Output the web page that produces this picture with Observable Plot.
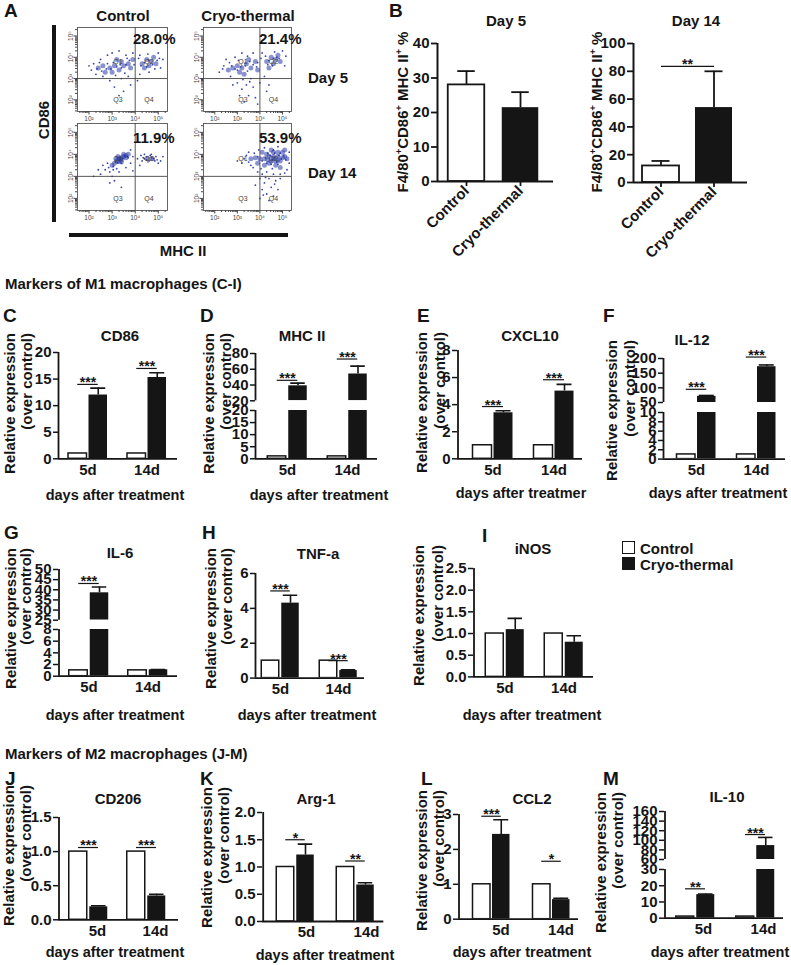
<!DOCTYPE html>
<html><head><meta charset="utf-8">
<script src="https://cdn.jsdelivr.net/npm/d3@7"></script>
<script src="https://cdn.jsdelivr.net/npm/@observablehq/plot@0.6"></script>
<style>
body{margin:0;background:#fff;}
#fig{position:relative;width:791px;height:965px;overflow:hidden;background:#fff;font-family:"Liberation Sans",Arial,Helvetica,sans-serif;font-weight:bold;color:#151515;}
.t{position:absolute;white-space:nowrap;line-height:1;}
.t sup{font-size:9px;vertical-align:6px;line-height:0;}
</style></head>
<body><div id="fig"></div>
<script>
// ---------------- DATA ----------------
const days = ["5d", "14d"];
const treatments = ["Control", "Cryo-thermal"];

// Panel B (% F4/80+CD86+MHCII+)
const bDay5Mean = [28.0, 21.4];
const bDay5Upper = [32.0, 25.9];
const bDay14Mean = [11.9, 53.9];
const bDay14Upper = [15.5, 80.0];
const bDay5Ticks = [0, 10, 20, 30, 40];
const bDay14Ticks = [0, 20, 40, 60, 80, 100];
const bDay14Sig = [{from: "Control", to: "Cryo-thermal", y: 83.5, t: "**"}];

// Panels C–M: control normalised to 1
const controlMean = [1, 1];
const cd86Cryo = [12.0, 15.3], cd86Err = [13.3, 16.2], cd86Sig = ["***", "***"], cd86SigAt = [14.0, 17.0];
const cd86Ticks = [0, 5, 10, 15, 20];
const mhcCryo = [39, 54], mhcErr = [42.4, 64], mhcSig = ["***", "***"], mhcSigAt = [46, 73];
const mhcTicksLow = [0, 5, 10, 15, 20], mhcTicksHigh = [20, 40, 60, 80];
const cxcl10Cryo = [3.4, 5.0], cxcl10Err = [3.55, 5.5], cxcl10Sig = ["***", "***"], cxcl10SigAt = [3.86, 5.84];
const cxcl10Ticks = [0, 2, 4, 6, 8];
const il12Cryo = [71, 172], il12Err = [74, 178], il12Sig = ["***", "***"], il12SigAt = [95, 205];
const il12TicksLow = [0, 2, 4, 6, 8, 10], il12TicksHigh = [50, 100, 150, 200];
const il6Cryo = [38.5, 1.1], il6Err = [41.4, 1.15], il6Sig = ["***", ""], il6SigAt = [43.1, 0];
const il6TicksLow = [0, 2, 4, 6, 8], il6TicksHigh = [25, 30, 35, 40, 45, 50];
const tnfCryo = [4.3, 0.43], tnfErr = [4.75, 0.47], tnfSig = ["***", "***"], tnfSigAt = [5.0, 1.0];
const tnfTicks = [0, 2, 4, 6];
const inosCryo = [1.09, 0.80], inosErr = [1.35, 0.95], inosSig = ["", ""], inosSigAt = [0, 0];
const inosTicks = [0, 0.5, 1.0, 1.5, 2.0, 2.5];
const cd206Cryo = [0.19, 0.35], cd206Err = [0.205, 0.375], cd206Sig = ["***", "***"], cd206SigAt = [1.06, 1.06];
const cd206Ticks = [0, 0.5, 1.0, 1.5];
const arg1Cryo = [1.22, 0.67], arg1Err = [1.42, 0.71], arg1Sig = ["*", "**"], arg1SigAt = [1.5, 1.11];
const arg1Ticks = [0, 0.5, 1.0, 1.5, 2.0];
const ccl2Cryo = [2.43, 0.56], ccl2Err = [2.85, 0.60], ccl2Sig = ["***", "*"], ccl2SigAt = [2.95, 1.66];
const ccl2Ticks = [0, 1, 2, 3];
const il10Cryo = [14.5, 89], il10Err = [14.9, 106], il10Sig = ["**", "***"], il10SigAt = [18.1, 112];
const il10TicksLow = [0, 10, 20, 30], il10TicksHigh = [60, 80, 100, 120, 140, 160];

// Panel A flow cytometry: [log10 MHC II, log10 CD86]
const flowDecades = [2, 3, 4, 5];
const flowPercent = ["28.0%", "21.4%", "11.9%", "53.9%"];
const quadLabels = [{q: "Q1", x: 3.25, y: 3.8}, {q: "Q2", x: 4.6, y: 3.8}, {q: "Q3", x: 3.25, y: 2.0}, {q: "Q4", x: 4.6, y: 2.0}];
const ctrlD5Dense = [[2.9,3.5],[3.1,3.6],[3.3,3.4],[3.0,3.3],[3.5,3.6],[3.7,3.7],[2.6,3.6],[2.4,3.5],[3.4,3.8],[3.8,3.5],[4.3,3.7],[4.5,3.9],[4.7,3.8],[4.6,3.6],[4.9,3.7],[4.4,3.5],[3.2,3.9],[2.7,3.3],[3.9,3.9],[4.8,4.0]];
const ctrlD5Sparse = [[2.1,3.4],[2.2,3.7],[2.3,3.2],[2.5,3.9],[2.8,4.1],[3.0,4.2],[3.3,4.3],[3.6,4.1],[3.9,4.2],[4.2,4.1],[5.0,4.2],[5.2,3.9],[5.1,3.5],[4.2,3.2],[3.7,3.1],[3.4,3.0],[2.9,2.9],[3.1,2.6],[3.5,2.4],[3.8,2.7],[4.1,2.9],[3.3,2.2],[2.6,3.1],[4.6,3.3],[2.0,3.6],[2.45,3.75],[2.75,3.45],[3.15,3.15],[3.55,3.25],[3.95,3.65],[4.15,3.95],[4.55,4.15],[4.85,3.45],[5.05,3.95],[2.35,3.45],[3.65,3.95],
  [2.95,3.45],[3.2,3.55],[3.4,3.5],[3.6,3.65],[2.8,3.7],[3.05,3.75],[4.4,3.75],[4.6,3.85],[4.75,3.65],[4.5,3.55],[3.75,3.85],[2.55,3.35],[3.35,3.65],[4.95,3.85],[4.25,3.6]];
const cryoD5Dense = [[2.8,3.5],[3.0,3.6],[3.2,3.5],[3.4,3.7],[3.1,3.3],[3.6,3.5],[3.8,3.8],[2.6,3.4],[3.5,3.9],[4.3,3.8],[4.5,4.0],[4.7,3.9],[4.8,4.1],[4.6,3.7],[4.9,3.8],[4.4,3.5],[3.3,3.2],[3.9,3.4]];
const cryoD5Sparse = [[2.2,3.3],[2.4,3.6],[2.5,3.9],[2.9,4.0],[3.2,4.2],[3.7,4.2],[4.1,4.2],[5.0,4.3],[5.1,3.6],[4.2,3.1],[3.6,3.0],[3.0,2.8],[3.2,2.5],[3.4,2.7],[3.7,2.6],[3.5,2.2],[3.3,1.9],[3.8,2.1],[4.0,2.8],[2.8,2.7],[3.1,2.2],[3.9,1.8],[4.4,2.7],[2.7,3.1],[2.35,3.45],[2.65,3.75],[3.05,3.85],[3.45,4.05],[3.85,3.55],[4.05,3.95],[4.25,4.05],[4.65,4.25],[5.15,4.05],[3.55,2.85],[3.25,2.95],[4.3,2.4],
  [2.9,3.45],[3.15,3.55],[3.35,3.6],[3.55,3.8],[2.75,3.6],[3.7,3.65],[4.4,3.85],[4.6,3.95],[4.75,4.0],[4.55,3.6],[4.85,3.95],[3.45,3.35],[3.0,3.4],[4.35,3.65],[3.9,3.75]];
const ctrlD14Dense = [[3.1,3.6],[3.2,3.7],[3.3,3.8],[3.4,3.85],[3.5,3.9],[3.6,3.95],[3.3,3.7],[3.4,3.75],[3.2,3.8],[3.5,4.0],[3.7,4.0],[3.0,3.5],[3.4,3.65],[3.6,3.85],[3.25,3.9],[4.55,3.8],[4.75,3.8]];
const ctrlD14Sparse = [[2.5,3.1],[2.7,3.3],[2.8,3.6],[2.9,3.2],[3.0,3.0],[3.1,2.8],[3.3,3.2],[2.6,3.5],[3.8,4.2],[3.9,3.9],[4.1,3.8],[4.3,3.7],[4.5,3.9],[4.6,3.7],[4.8,3.8],[4.9,3.9],[5.1,3.7],[4.4,4.0],[4.7,4.0],[5.0,3.6],[4.2,3.5],[3.6,3.4],[3.4,2.5],[2.9,2.7],[3.8,3.6],[2.2,3.0],[2.85,3.4],[3.05,3.3],[4.35,3.85],[4.65,3.95],[4.95,3.75],[5.2,3.9],[4.25,3.95],[3.9,3.25],[2.4,3.3],[3.2,3.35],
  [3.15,3.65],[3.3,3.75],[3.45,3.8],[3.55,3.95],[3.35,3.85],[3.25,3.6],[3.65,3.9],[3.05,3.45],[3.4,3.6],[3.7,3.85],[4.5,3.75],[4.7,3.85],[4.85,3.7],[4.4,3.8]];
const cryoD14Dense = [[4.2,3.8],[4.4,3.9],[4.6,3.9],[4.8,3.9],[5.0,3.85],[4.5,3.7],[4.7,3.7],[4.9,3.7],[5.1,3.9],[4.3,4.0],[4.6,4.1],[4.8,4.1],[5.0,4.1],[4.4,3.6],[4.7,3.5],[4.0,3.8],[3.8,3.85],[3.6,3.8],[5.2,3.8],[4.2,3.5],[4.9,3.4],[4.5,4.2],[5.1,4.2],[3.9,3.6],[4.1,4.1],[4.6,3.8],[4.8,3.75],[4.35,3.75]];
const cryoD14Sparse = [[3.3,3.8],[3.2,3.6],[3.5,4.1],[3.7,3.4],[3.9,3.2],[4.1,3.1],[4.3,3.2],[4.6,3.1],[4.9,3.1],[5.2,3.3],[5.3,4.1],[5.3,3.6],[4.0,2.9],[4.2,2.7],[4.4,2.9],[4.7,2.8],[4.1,2.4],[4.5,2.5],[4.3,2.2],[4.6,2.1],[4.0,2.0],[4.8,2.4],[3.8,2.6],[4.4,1.9],[4.2,4.3],[4.8,4.35],[3.6,3.5],[3.0,3.7],[3.4,3.95],[3.5,3.65],[4.05,3.35],[4.55,3.35],[4.25,2.95],[4.65,2.65],[4.15,2.15],[4.9,2.9],[5.1,3.15],[3.95,4.2],[3.75,4.05],
  [4.25,3.85],[4.45,3.95],[4.65,3.85],[4.85,3.95],[5.05,3.95],[4.55,3.75],[4.75,3.65],[4.95,3.8],[4.35,4.05],[4.65,4.05],[4.9,4.05],[4.5,3.55],[4.8,3.55],[4.1,3.7],[3.9,3.9],[5.15,3.75],[4.3,3.6],[4.6,4.2]];

// ---------------- HELPERS ----------------
const INK = "#151515";
const BLUE = "#2a3aa8";
const FONT = '"Liberation Sans", Arial, Helvetica, sans-serif';
const fig = document.getElementById("fig");
const baseStyle = {fontFamily: FONT, fontWeight: "bold", color: INK, overflow: "visible", background: "none"};
const plain = d => String(d);

function label(text, x, y, {size = 15, anchor = "middle", rotate = false, html = false, weight = "bold"} = {}) {
  const el = document.createElement("div");
  el.className = "t";
  el.style.fontSize = size + "px";
  el.style.fontWeight = weight;
  if (html) el.innerHTML = text; else el.textContent = text;
  el.style.left = x + "px";
  el.style.top = y + "px";
  el.style.transformOrigin = "0 0";
  if (!rotate) {
    el.style.transform = anchor === "start" ? "translate(0,-50%)" : anchor === "end" ? "translate(-100%,-50%)" : "translate(-50%,-50%)";
  } else {
    el.style.transform = anchor === "top" ? "rotate(-90deg) translate(-100%,-50%)" : "rotate(-90deg) translate(-50%,-50%)";
  }
  fig.appendChild(el);
}
function box(x, y, w, h, fill, stroke) {
  const el = document.createElement("div");
  el.style.cssText = `position:absolute;left:${x}px;top:${y}px;width:${w}px;height:${h}px;background:${fill};${stroke ? "border:1.5px solid " + stroke + ";box-sizing:border-box;" : ""}`;
  fig.appendChild(el);
}
function place(node, left, top) {
  node.style.position = "absolute";
  node.style.left = left + "px";
  node.style.top = top + "px";
  fig.appendChild(node);
}

// one y-segment of a grouped bar panel (broken axes use two segments)
function barSegment(g, seg, series, sigRows, isLower) {
  const mL = 50, mR = 6, mT = 26, mB = isLower ? 28 : 2;
  const frameH = seg.loPx - seg.hiPx;
  const svgLeft = g.ax - mL, svgTop = seg.hiPx - mT;
  const s = g.c[1] - g.c[0], half = s / 2, gap = 2, bw = g.bw, off = gap / 2 + bw / 2, cap = 15;
  const rows = days.map((d, i) => ({day: d, ctrl: series.ctrl[i], cryo: series.cryo[i], err: series.err[i]}));
  const ctrlRows = rows.filter(r => r.ctrl > seg.lo);
  const cryoRows = rows.filter(r => r.cryo > seg.lo);
  const errRows = rows.filter(r => r.err > seg.lo && r.cryo < seg.hi);
  const marks = [
    Plot.barY(ctrlRows, {x: "day", y1: () => seg.lo, y2: "ctrl", fill: "white", stroke: INK, strokeWidth: 1.5,
      insetLeft: half - gap / 2 - bw, insetRight: half + gap / 2, clip: true}),
    Plot.ruleX(errRows, {x: "day", y1: "cryo", y2: "err", dx: off, stroke: INK, strokeWidth: 1.6, clip: true}),
    Plot.tickY(errRows, {x: "day", y: "err", insetLeft: half + off - cap / 2, insetRight: half - off - cap / 2, stroke: INK, strokeWidth: 1.6, clip: true}),
    Plot.barY(cryoRows, {x: "day", y1: () => seg.lo, y2: "cryo", fill: INK,
      insetLeft: half + gap / 2, insetRight: half - gap / 2 - bw, clip: true}),
    Plot.tickY(sigRows, {x: "day", y: "y", insetLeft: half - off, insetRight: half - off, stroke: INK, strokeWidth: 1.2}),
    Plot.text(sigRows, {x: "day", y: "y", text: "t", dy: -1.5, fontSize: 14, fill: INK}),
    Plot.ruleX([days[0]], {x: d => d, dx: g.ax - g.c[0], stroke: INK, strokeWidth: 1.8}),
    Plot.axisY({ticks: seg.ticks, tickFormat: g.fmt || plain, tickSize: 5, tickPadding: 2, fontSize: 15, strokeWidth: 1.5, label: null})
  ];
  if (isLower) {
    marks.push(Plot.ruleY([seg.lo], {stroke: INK, strokeWidth: 1.8}));
    marks.push(Plot.text(days, {x: d => d, y: () => seg.lo, dy: 11, dx: g.xdx || 0, fontSize: 15, text: d => d, fill: INK}));
  }
  const svg = Plot.plot({
    width: g.ar - g.ax + mL + mR, height: frameH + mT + mB,
    marginLeft: mL, marginRight: mR, marginTop: mT, marginBottom: mB,
    x: {type: "band", domain: days, range: [g.c[0] - half - svgLeft, g.c[1] + half - svgLeft], padding: 0, axis: null},
    y: {domain: [seg.lo, seg.hi], axis: null},
    style: baseStyle,
    marks
  });
  place(svg, svgLeft, svgTop);
}

function barPanel(g, series) {
  const sig = days.map((d, i) => ({day: d, y: series.sigAt[i], t: series.sig[i]})).filter(r => r.t);
  if (g.segs.length === 1) {
    barSegment(g, g.segs[0], series, sig, true);
  } else {
    const [low, high] = g.segs;
    barSegment(g, low, series, sig.filter(r => r.y <= low.hi), true);
    barSegment(g, high, series, sig.filter(r => r.y > low.hi), false);
  }
}

function bPanel(g, means, uppers, ticks, sigList) {
  const mL = 50, mR = 8, mT = 12, mB = 100;
  const frameH = g.y0 - g.yTop;
  const svgLeft = g.ax - mL, svgTop = g.yTop - mT;
  const s = g.c[1] - g.c[0], half = s / 2, bw = g.bw, cap = 18;
  const rows = treatments.map((t, i) => ({t, v: means[i], e: uppers[i]}));
  const svg = Plot.plot({
    width: g.ar - g.ax + mL + mR, height: frameH + mT + mB,
    marginLeft: mL, marginRight: mR, marginTop: mT, marginBottom: mB,
    x: {type: "band", domain: treatments, range: [g.c[0] - half - svgLeft, g.c[1] + half - svgLeft], padding: 0, axis: null},
    y: {domain: [0, ticks[ticks.length - 1]], axis: null},
    style: baseStyle,
    marks: [
      Plot.ruleX(rows, {x: "t", y1: "v", y2: "e", stroke: INK, strokeWidth: 1.8}),
      Plot.tickY(rows, {x: "t", y: "e", insetLeft: half - cap / 2, insetRight: half - cap / 2, stroke: INK, strokeWidth: 1.8}),
      Plot.barY(rows.filter(r => r.t === "Control"), {x: "t", y1: () => 0, y2: "v", fill: "white", stroke: INK, strokeWidth: 1.8, insetLeft: half - bw / 2, insetRight: half - bw / 2}),
      Plot.barY(rows.filter(r => r.t !== "Control"), {x: "t", y1: () => 0, y2: "v", fill: INK, insetLeft: half - bw / 2, insetRight: half - bw / 2}),
      Plot.link(sigList, {x1: "from", x2: "to", y1: "y", y2: "y", stroke: INK, strokeWidth: 1.3}),
      Plot.text(sigList, {x: "from", y: "y", text: "t", dx: half, dy: -1.5, fontSize: 14, fill: INK}),
      Plot.ruleX([treatments[0]], {x: d => d, dx: g.ax - g.c[0], stroke: INK, strokeWidth: 2}),
      Plot.ruleY([0], {stroke: INK, strokeWidth: 2}),
      Plot.axisY({ticks, tickFormat: plain, tickSize: 6, tickPadding: 2, fontSize: 15, strokeWidth: 1.8, label: null}),
      Plot.axisX({tickSize: 5, tickRotate: -45, textAnchor: "end", tickPadding: 2, fontSize: 15, strokeWidth: 1.8, label: null})
    ]
  });
  place(svg, svgLeft, svgTop);
}

const SUP = {2: "10²", 3: "10³", 4: "10⁴", 5: "10⁵"};
const flowMinor = [];
for (let k = 1; k <= 5; k++) for (let m = 2; m <= 9; m++) flowMinor.push(k + Math.log10(m));

function flowPlot(dense, sparse, left, top, W, H) {
  const mL = 14, mR = 1, mT = 1, mB = 13;
  const svg = Plot.plot({
    width: W + mL + mR, height: H + mT + mB,
    marginLeft: mL, marginRight: mR, marginTop: mT, marginBottom: mB,
    x: {domain: [1.5, 5.4], axis: null},
    y: {domain: [1.45, 5.4], axis: null},
    style: baseStyle,
    marks: [
      Plot.dot(dense, {x: d => d[0], y: d => d[1], r: 2.5, fill: BLUE, fillOpacity: 0.55, clip: true}),
      Plot.dot(sparse, {x: d => d[0], y: d => d[1], r: 0.9, fill: BLUE, fillOpacity: 0.95, clip: true}),
      Plot.frame({stroke: "#555", strokeWidth: 0.9}),
      Plot.ruleX([4], {stroke: "#444", strokeWidth: 0.9}),
      Plot.ruleY([3], {stroke: "#444", strokeWidth: 0.9}),
      Plot.text(quadLabels, {x: "x", y: "y", text: "q", fontSize: 7, fontWeight: "normal", fill: "#444"}),
      Plot.axisX({ticks: flowMinor.filter(v => v >= 1.5 && v <= 5.4), tickSize: 2, tickFormat: () => "", stroke: "#444", label: null}),
      Plot.axisX({ticks: flowDecades, tickSize: 3.5, tickPadding: 1, fontSize: 6.5, fontWeight: "normal", fill: "#444", stroke: "#444", tickFormat: d => SUP[d], label: null}),
      Plot.axisY({ticks: flowMinor.filter(v => v >= 1.45 && v <= 5.4), tickSize: 2, tickFormat: () => "", stroke: "#444", label: null}),
      Plot.axisY({ticks: flowDecades, tickSize: 3.5, tickPadding: 1, tickRotate: -90, fontSize: 6.5, fontWeight: "normal", fill: "#444", stroke: "#444", tickFormat: d => SUP[d], label: null})
    ]
  });
  place(svg, left - mL, top - mT);
}

// ---------------- PANEL A ----------------
label("A", 4, 10, {size: 19, anchor: "start"});
label("Control", 123, 15);
label("Cryo-thermal", 248, 15);
flowPlot(ctrlD5Dense, ctrlD5Sparse, 77, 27, 90, 84);
flowPlot(cryoD5Dense, cryoD5Sparse, 203, 27, 88, 84);
flowPlot(ctrlD14Dense, ctrlD14Sparse, 77, 123, 90, 87);
flowPlot(cryoD14Dense, cryoD14Sparse, 203, 123, 88, 87);
label(flowPercent[0], 133, 38, {anchor: "start"});
label(flowPercent[1], 259, 38, {anchor: "start"});
label(flowPercent[2], 133, 137, {anchor: "start"});
label(flowPercent[3], 259, 137, {anchor: "start"});
label("Day 5", 308, 77, {anchor: "start"});
label("Day 14", 308, 172, {anchor: "start"});
box(52, 25, 4, 197, INK);
box(69, 233, 219, 4, INK);
label("CD86", 43, 120, {rotate: true});
label("MHC II", 183, 250);

// ---------------- PANEL B ----------------
label("B", 389, 10, {size: 19, anchor: "start"});
label("Day 5", 506, 20);
label("Day 14", 696, 20);
const bYLabel = "F4/80<sup>+</sup>CD86<sup>+</sup> MHC II<sup>+</sup> %";
label(bYLabel, 402, 112, {rotate: true, html: true});
label(bYLabel, 596, 112, {rotate: true, html: true});
bPanel({ax: 437, ar: 553, c: [466, 520.5], bw: 37, yTop: 43, y0: 181}, bDay5Mean, bDay5Upper, bDay5Ticks, []);
bPanel({ax: 633, ar: 747, c: [660.5, 713.5], bw: 37, yTop: 43, y0: 182}, bDay14Mean, bDay14Upper, bDay14Ticks, bDay14Sig);

// ---------------- SECTION HEADERS ----------------
label("Markers of M1 macrophages (C-I)", 5, 283, {anchor: "start"});
label("Markers of M2 macrophages (J-M)", 5, 753, {anchor: "start"});

// ---------------- PANELS C–M ----------------
const f1 = d3.format(".1f");
function titles(letter, lx, ly, title, tx, ty, yl1, yl2, ylTop, xt, xtx, xty) {
  label(letter, lx, ly, {size: 19, anchor: "start"});
  label(title, tx, ty);
  label("Relative expression", yl1, ylTop, {rotate: true, anchor: "top"});
  label("(over control)", yl2, ylTop, {rotate: true, anchor: "top"});
  label(xt, xtx, xty, {size: 14.5});
}
const XT = "days after treatment";

titles("C", 3, 315, "CD86", 120, 335, 9, 26, 333, XT, 115, 495);
barPanel({ax: 58, ar: 177, c: [87.5, 146.5], bw: 18.5, segs: [{lo: 0, hi: 20, loPx: 458, hiPx: 351.7, ticks: cd86Ticks}]},
  {ctrl: controlMean, cryo: cd86Cryo, err: cd86Err, sig: cd86Sig, sigAt: cd86SigAt});

titles("D", 200, 315, "MHC II", 302, 335, 208, 225, 333, XT, 319, 495);
barPanel({ax: 255, ar: 377, c: [287, 347.5], bw: 19, segs: [
  {lo: 0, hi: 20, loPx: 458.3, hiPx: 410, ticks: mhcTicksLow},
  {lo: 20, hi: 80, loPx: 400, hiPx: 352.7, ticks: mhcTicksHigh}]},
  {ctrl: controlMean, cryo: mhcCryo, err: mhcErr, sig: mhcSig, sigAt: mhcSigAt});

titles("E", 417, 315, "CXCL10", 530, 335, 421, 439, 332, "days after treatmer", 521, 493);
barPanel({ax: 457, ar: 582, c: [492, 553], bw: 19, segs: [{lo: 0, hi: 8, loPx: 458.3, hiPx: 350, ticks: cxcl10Ticks}]},
  {ctrl: controlMean, cryo: cxcl10Cryo, err: cxcl10Err, sig: cxcl10Sig, sigAt: cxcl10SigAt});

titles("F", 603, 315, "IL-12", 692, 339, 611, 629, 340, XT, 718, 493);
barPanel({ax: 663, ar: 785, c: [696, 756], bw: 18.5, segs: [
  {lo: 0, hi: 10, loPx: 458.3, hiPx: 411.7, ticks: il12TicksLow},
  {lo: 50, hi: 200, loPx: 402.3, hiPx: 358.3, ticks: il12TicksHigh}]},
  {ctrl: controlMean, cryo: il12Cryo, err: il12Err, sig: il12Sig, sigAt: il12SigAt});

titles("G", 4, 532, "IL-6", 120, 552, 10, 25, 548, XT, 115, 715);
barPanel({ax: 58, ar: 177, c: [88, 147.5], bw: 19, segs: [
  {lo: 0, hi: 8, loPx: 676, hiPx: 629.3, ticks: il6TicksLow},
  {lo: 25, hi: 50, loPx: 620, hiPx: 569.3, ticks: il6TicksHigh}]},
  {ctrl: controlMean, cryo: il6Cryo, err: il6Err, sig: il6Sig, sigAt: il6SigAt});

titles("H", 202, 532, "TNF-a", 318, 553, 210, 226, 548, XT, 307, 715);
barPanel({ax: 255, ar: 364, c: [280, 338.5], bw: 18, segs: [{lo: 0, hi: 6, loPx: 677.3, hiPx: 572.7, ticks: tnfTicks}]},
  {ctrl: controlMean, cryo: tnfCryo, err: tnfErr, sig: tnfSig, sigAt: tnfSigAt});

titles("I", 482, 535, "iNOS", 533, 548, 418, 437, 545, XT, 532, 715);
barPanel({ax: 473, ar: 593, c: [504, 563.5], bw: 18.5, fmt: f1, segs: [{lo: 0, hi: 2.5, loPx: 676.7, hiPx: 568.3, ticks: inosTicks}]},
  {ctrl: controlMean, cryo: inosCryo, err: inosErr, sig: inosSig, sigAt: inosSigAt});

// legend
box(622, 541, 13, 13, "white", INK);
box(622, 557, 13, 13, INK);
label("Control", 640, 548, {anchor: "start"});
label("Cryo-thermal", 640, 564, {anchor: "start"});

titles("J", 5, 778, "CD206", 118, 798, 8, 25, 785, XT, 115, 952);
barPanel({ax: 58, ar: 178, c: [87.5, 146], bw: 18.5, xdx: 9, fmt: f1, segs: [{lo: 0, hi: 1.5, loPx: 919, hiPx: 816.7, ticks: cd206Ticks}]},
  {ctrl: controlMean, cryo: cd206Cryo, err: cd206Err, sig: cd206Sig, sigAt: cd206SigAt});

titles("K", 200, 778, "Arg-1", 316, 798, 206, 223, 787, XT, 325, 955);
barPanel({ax: 261.7, ar: 383, c: [294, 354.5], bw: 18, xdx: 11, fmt: f1, segs: [{lo: 0, hi: 2, loPx: 920.7, hiPx: 811.7, ticks: arg1Ticks}]},
  {ctrl: controlMean, cryo: arg1Cryo, err: arg1Err, sig: arg1Sig, sigAt: arg1SigAt});

titles("L", 421, 778, "CCL2", 532, 798, 421, 438, 790, XT, 522, 952);
barPanel({ax: 458, ar: 578, c: [490.5, 550.5], bw: 17.5, xdx: 9.5, segs: [{lo: 0, hi: 3, loPx: 919, hiPx: 814.3, ticks: ccl2Ticks}]},
  {ctrl: controlMean, cryo: ccl2Cryo, err: ccl2Err, sig: ccl2Sig, sigAt: ccl2SigAt});

titles("M", 603, 778, "IL-10", 727, 796, 600, 617, 792, XT, 720, 952);
barPanel({ax: 664, ar: 783, c: [694.5, 755], bw: 18.5, xdx: 8, segs: [
  {lo: 0, hi: 30, loPx: 917.7, hiPx: 869, ticks: il10TicksLow},
  {lo: 60, hi: 160, loPx: 859, hiPx: 811, ticks: il10TicksHigh}]},
  {ctrl: controlMean, cryo: il10Cryo, err: il10Err, sig: il10Sig, sigAt: il10SigAt});
</script>
</body></html>
